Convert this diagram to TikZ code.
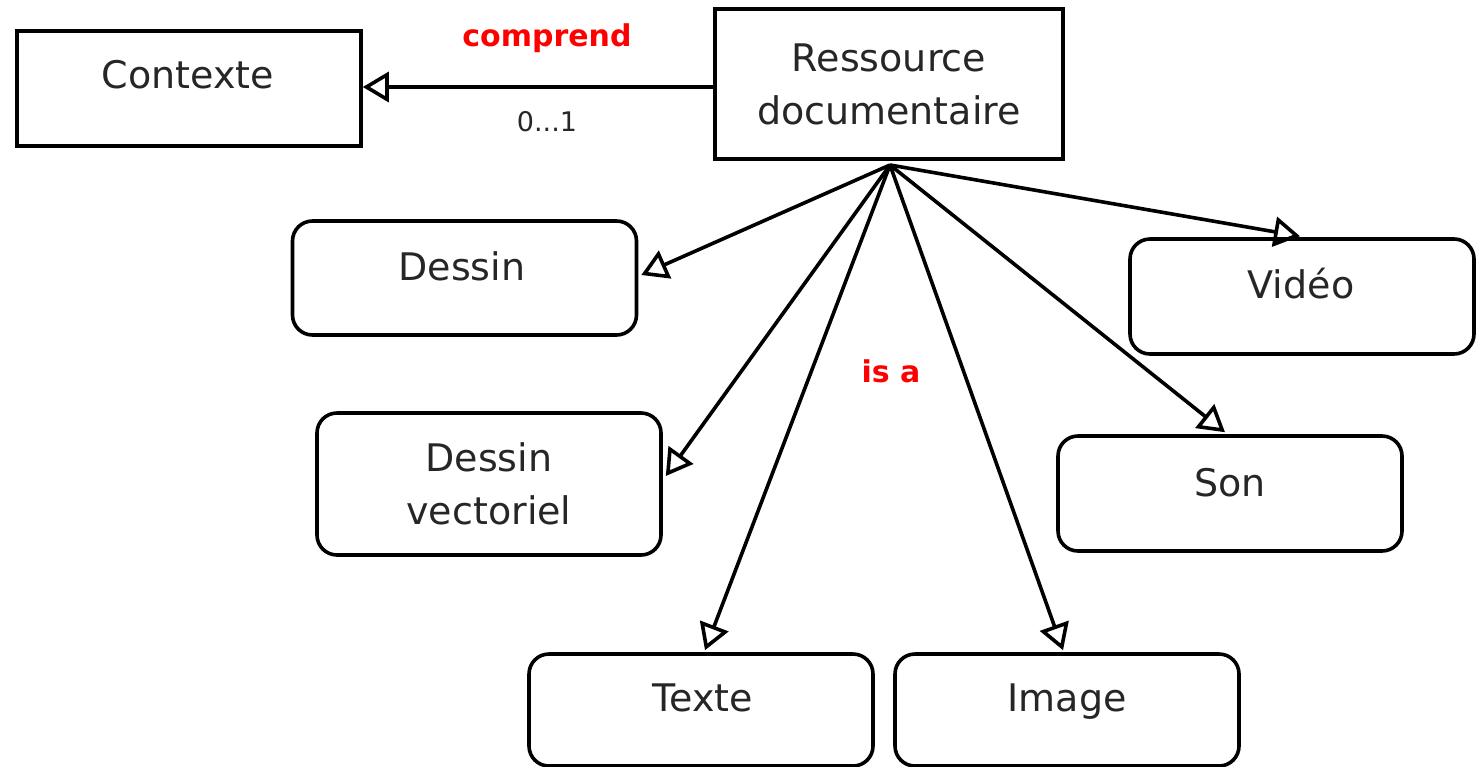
\documentclass[tikz,border=0pt]{standalone}
\usepackage{fontspec}
\setmainfont{DejaVu Sans}
\usetikzlibrary{arrows.meta,calc}
\begin{document}
\begin{tikzpicture}[x=0.5pt,y=-0.5pt,
  txt/.style={font=\fontsize{19}{26.5}\selectfont, text=black!85, align=center, inner sep=0pt},
  one/.style={txt, text height=14pt, text depth=4pt},
  sq/.style={draw, line width=1.8pt, inner sep=0pt},
  rnd/.style={draw, line width=1.8pt, rounded corners=10pt, inner sep=0pt, minimum width=172pt},
  lbl/.style={font=\fontsize{15}{18}\bfseries\selectfont, text=red, inner sep=0pt},
  arr/.style={line width=1.8pt, -{Triangle[open, length=13pt, width=15pt, line width=1.8pt]}}
]
\useasboundingbox (0,0) rectangle (1476,766);
% boxes
\node[sq, minimum width=172pt, minimum height=57.5pt] (ctx) at (189,88.5) {};
\node[one] (ctxT) at (188,78) {Contexte};
\node[sq, minimum width=174pt, minimum height=75pt, txt] (ress) at (889,84) {Ressource\\documentaire};
\node[rnd, minimum height=57pt] (dessin) at (464.5,278) {};
\node[one] (dessinT) at (462,270) {Dessin};
\node[rnd, minimum height=71pt, txt] (dv) at (489,484) {Dessin\\vectoriel};
\node[rnd, minimum height=56pt] (texte) at (701,710) {};
\node[one] (texteT) at (703,701) {Texte};
\node[rnd, minimum height=56pt] (image) at (1067,710) {};
\node[one] (imageT) at (1067,701) {Image};
\node[rnd, minimum height=57.5pt] (son) at (1230,493.5) {};
\node[one] (sonT) at (1230,486) {Son};
\node[rnd, minimum height=57.5pt] (video) at (1302,296.5) {};
\node[one] (videoT) at (1301,288) {Vidéo};
% hub
\coordinate (hub) at (890,165);
% connectors
\draw[arr] (ress.west |- 0,87) -- (ctx.east |- 0,87);
\draw[arr] (hub) -- ($(dessin.east)+(3,-3)$);
\draw[arr] (hub) -- ($(dv.east)+(3,-8)$);
\draw[arr] (hub) -- ($(texte.north)+(4,-2)$);
\draw[arr] (hub) -- ($(image.north)+(-4,-2)$);
\draw[arr] (hub) -- ($(son.north)+(-5,-2)$);
\draw[arr] (hub) -- ($(video.north)+(-2,-1)$);
% labels
\node[lbl] (comprend) at (547,38) {comprend};
\node[font=\fontsize{13.5}{16}\selectfont, text=black!85, inner sep=0pt] (mult) at (547,122) {0...1};
\node[lbl] (isa) at (891,371) {is a};
\end{tikzpicture}
\end{document}
